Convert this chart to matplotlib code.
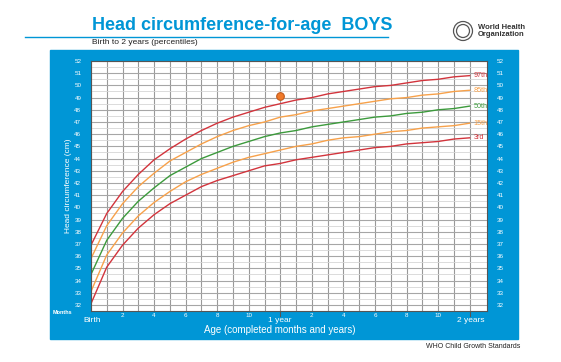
"""Head circumference-for-age, boys, birth to 2 years (WHO percentile chart)."""
import matplotlib

matplotlib.use("Agg")
import matplotlib.pyplot as plt
from matplotlib.patches import Ellipse, Rectangle

plt.rcParams["font.family"] = ["Liberation Sans", "DejaVu Sans"]

# Percentile curves, cm, one value per completed month 0..24.
MONTHS = list(range(25))
P3 = [32.1, 35.1, 36.9, 38.3, 39.4, 40.3, 41.0, 41.7, 42.2, 42.6, 43.0, 43.4, 43.6,
      43.9, 44.1, 44.3, 44.5, 44.7, 44.9, 45.0, 45.2, 45.3, 45.4, 45.6, 45.7]
P15 = [33.1, 36.1, 37.9, 39.3, 40.4, 41.3, 42.1, 42.7, 43.2, 43.7, 44.1, 44.4, 44.7,
       45.0, 45.2, 45.5, 45.7, 45.8, 46.0, 46.2, 46.3, 46.5, 46.6, 46.7, 46.9]
P50 = [34.5, 37.3, 39.1, 40.5, 41.6, 42.6, 43.3, 44.0, 44.5, 45.0, 45.4, 45.8, 46.1,
       46.3, 46.6, 46.8, 47.0, 47.2, 47.4, 47.5, 47.7, 47.8, 48.0, 48.1, 48.3]
P85 = [35.8, 38.5, 40.3, 41.7, 42.8, 43.8, 44.5, 45.2, 45.8, 46.3, 46.7, 47.0, 47.4,
       47.6, 47.9, 48.1, 48.3, 48.5, 48.7, 48.9, 49.0, 49.2, 49.3, 49.5, 49.6]
P97 = [36.9, 39.5, 41.3, 42.7, 43.9, 44.8, 45.6, 46.3, 46.9, 47.4, 47.8, 48.2, 48.5,
       48.8, 49.0, 49.3, 49.5, 49.7, 49.9, 50.0, 50.2, 50.4, 50.5, 50.7, 50.8]
CURVE_NAMES = ["97th", "85th", "50th", "15th", "3rd"]

# The one measured child.
CHILD_AGE = [12]
CHILD_HC = [49.1]

MONTH_LABELS = ["", "", "2", "", "4", "", "6", "", "8", "", "10", "", "",
                "", "2", "", "4", "", "6", "", "8", "", "10", "", ""]
CM_TICKS = list(range(32, 53))

BLUE = "#0096d6"
RED = "#d2343c"
ORANGE = "#f7a14a"
GREEN = "#3c9a3c"

fig = plt.figure(figsize=(5.61, 3.62), dpi=100)
W, H = 561, 362

# blue panel behind the grid
fig.patches.append(Rectangle((50 / W, 1 - 339 / H), 468 / W, 289 / H,
                             transform=fig.transFigure, color=BLUE, zorder=-5))

ax = fig.add_axes([91 / W, 1 - 311 / H, 396 / W, 250 / H])
ax.set_zorder(1)
ax.set_facecolor("white")
ax.set_xlim(0, 25.1)
ax.set_ylim(31.5, 52)

# grid: cm lines, half-cm lines, month lines up to 24
ax.set_yticks(CM_TICKS)
ax.set_yticks([c + 0.5 for c in CM_TICKS[:-1]] + [31.5], minor=True)
ax.set_xticks(MONTHS, MONTH_LABELS)
ax.grid(axis="y", which="major", color="#a6a6a6", lw=0.8)
ax.grid(axis="y", which="minor", color="#d6d6d6", lw=0.6)
ax.grid(axis="x", which="major", color="#999999", lw=0.8)
ax.set_axisbelow(True)
ax.tick_params(axis="both", which="both", length=0, colors="white", labelsize=4.5)
ax.tick_params(axis="y", labelright=True, pad=7)
ax.tick_params(axis="x", pad=1.5)
for s in ax.spines.values():
    s.set_color("#555555")
    s.set_linewidth(0.8)

# small tick marks at 1 and 2 years
for m in (12, 24):
    ax.plot([m, m], [31.5, 31.1], color="#555555", lw=0.8, clip_on=False)

curves = [P97, P85, P50, P15, P3]
colors = [RED, ORANGE, GREEN, ORANGE, RED]
for vals, col, name in zip(curves, colors, CURVE_NAMES):
    ax.plot(MONTHS, vals, color=col, lw=1.0)
    ax.text(24.25, vals[-1], name, color=col, fontsize=5.2, va="center", ha="left")

ax.plot(CHILD_AGE, CHILD_HC, "o", ms=5.5, color="#f07a2a", mec="#c25a1c", mew=0.8)

# axis texts on the blue panel
tw = dict(color="white", transform=fig.transFigure, zorder=3)
fig.text(62 / W, 1 - 313 / H, "Months", fontsize=4, weight="bold", ha="center", va="center", **tw)
fig.text(92 / W, 1 - 321 / H, "Birth", fontsize=6, ha="center", va="center", **tw)
fig.text(280 / W, 1 - 321 / H, "1 year", fontsize=6, ha="center", va="center", **tw)
fig.text(471 / W, 1 - 321 / H, "2 years", fontsize=6, ha="center", va="center", **tw)
fig.text(280 / W, 1 - 330 / H, "Age (completed months and years)", fontsize=7,
         ha="center", va="center", **tw)
fig.text(69 / W, 1 - 186 / H, "Head circumference (cm)", fontsize=6, rotation=90,
         ha="center", va="center", **tw)

# header
fig.text(92 / W, 1 - 25 / H, "Head circumference-for-age  BOYS", color=BLUE,
         fontsize=13, weight="bold", ha="left", va="center")
fig.add_artist(plt.Line2D([25 / W, 388 / W], [1 - 37 / H, 1 - 37 / H], color=BLUE,
                          lw=1.0, transform=fig.transFigure))
fig.text(92 / W, 1 - 43 / H, "Birth to 2 years (percentiles)", color="#222222",
         fontsize=6, ha="left", va="center")

# WHO emblem and name
for d in (19, 13):
    fig.add_artist(Ellipse((463 / W, 1 - 31 / H), d / W, d / H, transform=fig.transFigure,
                           fill=False, ec="#555555", lw=0.9))
fig.text(478 / W, 1 - 31 / H, "World Health\nOrganization", color="#333333",
         fontsize=5.5, weight="bold", ha="left", va="center", linespacing=1.0)

fig.text(520 / W, 1 - 347 / H, "WHO Child Growth Standards", color="#222222",
         fontsize=5, ha="right", va="center")

fig.savefig("out.png", dpi=100)
